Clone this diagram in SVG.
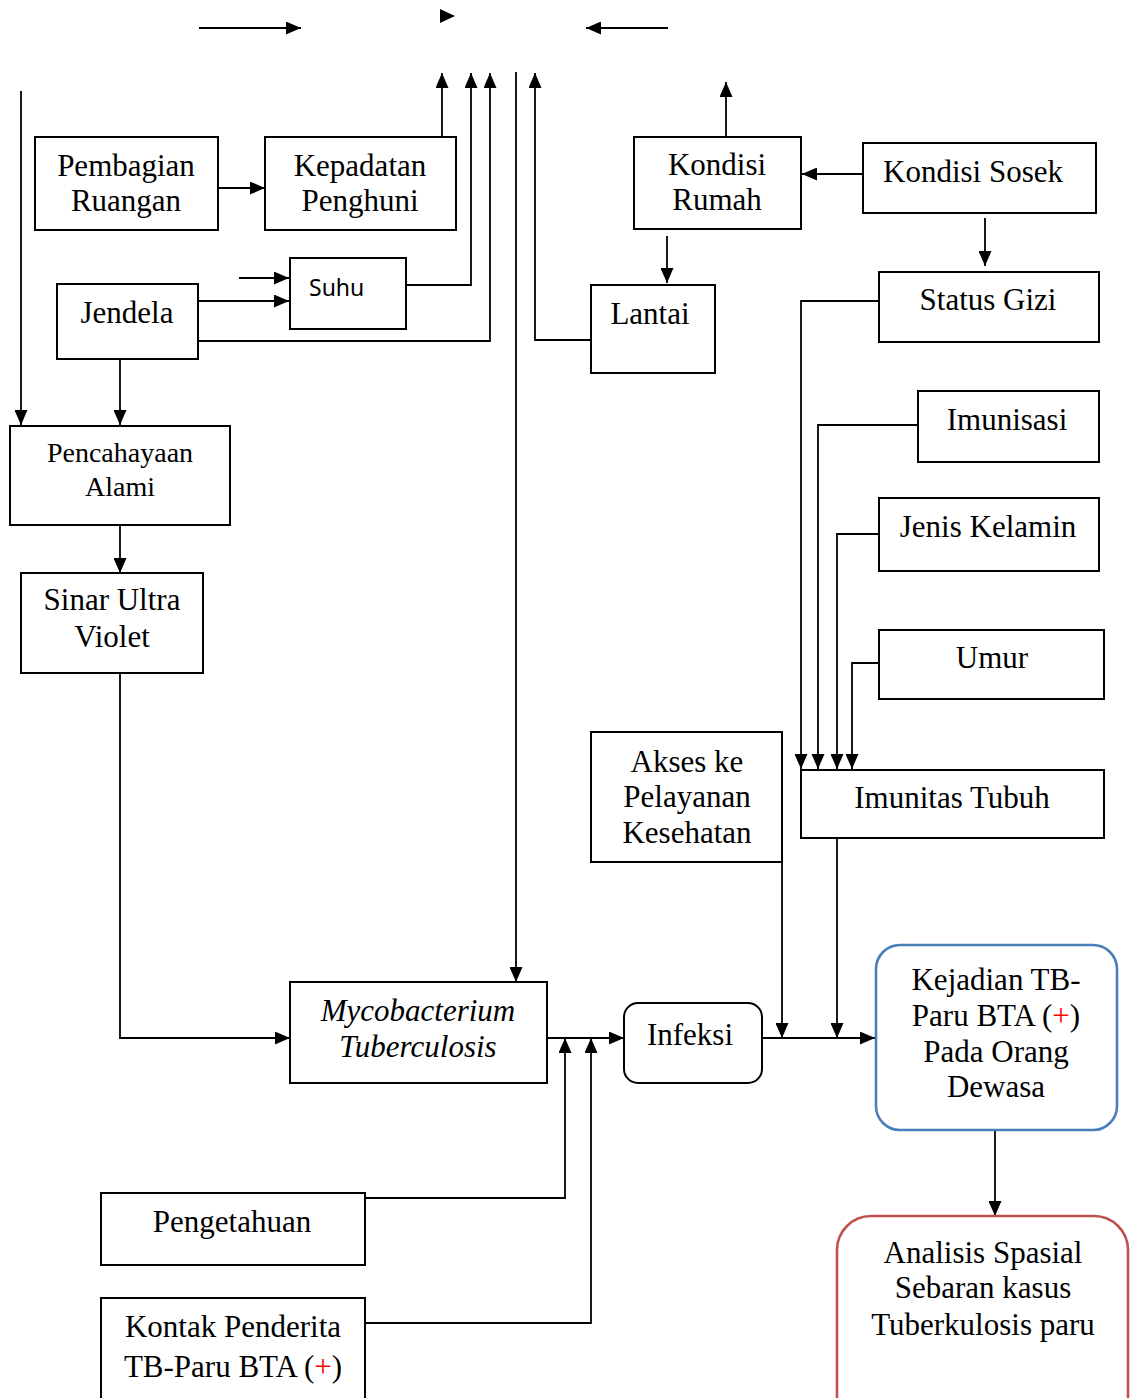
<svg xmlns="http://www.w3.org/2000/svg" width="1130" height="1398" viewBox="0 0 1130 1398">
  <style>
    .box { fill: #ffffff; stroke: #000000; stroke-width: 2; }
    .rbox { fill: #ffffff; stroke: #000000; stroke-width: 2; }
    .blue { fill: #ffffff; stroke: #4A7EBB; stroke-width: 2.6; }
    .red { fill: #ffffff; stroke: #C0504D; stroke-width: 2.6; }
    .t { font-family: "Liberation Serif", "Times New Roman", serif; font-size: 31px; fill: #000000; text-anchor: middle; }
    .t28 { font-size: 28px; }
    .it { font-style: italic; }
    .sans { font-family: "Noto Sans", "Open Sans", sans-serif; font-size: 23px; fill: #000000; }
    .plus { fill: #FF0000; }
    .edge { fill: none; stroke: #000000; stroke-width: 1.8; marker-end: url(#arrow); }
    .line { fill: none; stroke: #000000; stroke-width: 1.8; }
  </style>
  <defs>
    <marker id="arrow" markerUnits="userSpaceOnUse" markerWidth="15" markerHeight="13" refX="15" refY="6.5" orient="auto">
      <path d="M0,0 L15,6.5 L0,13 Z" fill="#000000"/>
    </marker>
  </defs>
  <rect width="1130" height="1398" fill="#ffffff"/>

  <!-- connectors -->
  <g id="connectors">
    <path class="edge" d="M199,28 H301"/>
    <path d="M440,9 L455,16 L440,23 Z" fill="#000000"/>
    <path class="edge" d="M668,28 H586"/>
    <path class="edge" d="M442,137 V73"/>
    <path class="edge" d="M406,285 H471 V73"/>
    <path class="edge" d="M198,341 H490 V73"/>
    <path class="edge" d="M516,72 V982"/>
    <path class="edge" d="M591,340 H535 V73"/>
    <path class="edge" d="M726,137 V82"/>
    <path class="edge" d="M21,91 V425"/>
    <path class="edge" d="M218,188 H265"/>
    <path class="edge" d="M239,278 H289"/>
    <path class="edge" d="M198,301 H289"/>
    <path class="edge" d="M120,359 V425"/>
    <path class="edge" d="M120,525 V573"/>
    <path class="edge" d="M120,673 V1038 H290"/>
    <path class="edge" d="M548,1038 H624"/>
    <path class="edge" d="M362,1198 H565 V1038"/>
    <path class="edge" d="M362,1323 H591 V1038"/>
    <path class="edge" d="M762,1038 H875"/>
    <path class="edge" d="M782,863 V1038"/>
    <path class="edge" d="M837,839 V1038"/>
    <path class="edge" d="M863,174 H802"/>
    <path class="edge" d="M985,218 V266"/>
    <path class="edge" d="M667,236 V283"/>
    <path class="edge" d="M879,301 H801 V769"/>
    <path class="edge" d="M918,425 H818 V769"/>
    <path class="edge" d="M879,534 H837 V769"/>
    <path class="edge" d="M879,663 H852 V769"/>
    <path class="edge" d="M995,1130 V1216"/>
  </g>

  <!-- nodes -->
  <g id="pembagian-ruangan">
    <rect class="box" x="35" y="137" width="183" height="93"/>
    <text class="t" x="126" y="176">Pembagian</text>
    <text class="t" x="126" y="211">Ruangan</text>
  </g>
  <g id="kepadatan-penghuni">
    <rect class="box" x="265" y="137" width="191" height="93"/>
    <text class="t" x="360" y="176">Kepadatan</text>
    <text class="t" x="360" y="211">Penghuni</text>
  </g>
  <g id="suhu">
    <rect class="box" x="290" y="258" width="116" height="71"/>
    <text class="sans" x="309" y="296">Suhu</text>
  </g>
  <g id="jendela">
    <rect class="box" x="57" y="284" width="141" height="75"/>
    <text class="t" x="127" y="323">Jendela</text>
  </g>
  <g id="pencahayaan-alami">
    <rect class="box" x="10" y="426" width="220" height="99"/>
    <text class="t t28" x="120" y="462">Pencahayaan</text>
    <text class="t t28" x="120" y="496">Alami</text>
  </g>
  <g id="sinar-ultra-violet">
    <rect class="box" x="21" y="573" width="182" height="100"/>
    <text class="t" x="112" y="610">Sinar Ultra</text>
    <text class="t" x="112" y="647">Violet</text>
  </g>
  <g id="kondisi-rumah">
    <rect class="box" x="634" y="137" width="167" height="92"/>
    <text class="t" x="717" y="175">Kondisi</text>
    <text class="t" x="717" y="210">Rumah</text>
  </g>
  <g id="kondisi-sosek">
    <rect class="box" x="863" y="143" width="233" height="70"/>
    <text class="t" x="973" y="182">Kondisi Sosek</text>
  </g>
  <g id="lantai">
    <rect class="box" x="591" y="285" width="124" height="88"/>
    <text class="t" x="650" y="324">Lantai</text>
  </g>
  <g id="status-gizi">
    <rect class="box" x="879" y="272" width="220" height="70"/>
    <text class="t" x="988" y="310">Status Gizi</text>
  </g>
  <g id="imunisasi">
    <rect class="box" x="918" y="391" width="181" height="71"/>
    <text class="t" x="1007" y="430">Imunisasi</text>
  </g>
  <g id="jenis-kelamin">
    <rect class="box" x="879" y="498" width="220" height="73"/>
    <text class="t" x="988" y="537">Jenis Kelamin</text>
  </g>
  <g id="umur">
    <rect class="box" x="879" y="630" width="225" height="69"/>
    <text class="t" x="992" y="668">Umur</text>
  </g>
  <g id="imunitas-tubuh">
    <rect class="box" x="801" y="770" width="303" height="68"/>
    <text class="t" x="952" y="808">Imunitas Tubuh</text>
  </g>
  <g id="akses-pelayanan">
    <rect class="box" x="591" y="732" width="191" height="130"/>
    <text class="t" x="687" y="772">Akses ke</text>
    <text class="t" x="687" y="807">Pelayanan</text>
    <text class="t" x="687" y="843">Kesehatan</text>
  </g>
  <g id="mycobacterium">
    <rect class="box" x="290" y="982" width="257" height="101"/>
    <text class="t it" x="418" y="1021">Mycobacterium</text>
    <text class="t it" x="418" y="1057">Tuberculosis</text>
  </g>
  <g id="infeksi">
    <rect class="rbox" x="624" y="1003" width="138" height="80" rx="14"/>
    <text class="t" x="690" y="1045">Infeksi</text>
  </g>
  <g id="kejadian-tb">
    <rect class="blue" x="876" y="945" width="241" height="185" rx="24"/>
    <text class="t" x="996" y="990">Kejadian TB-</text>
    <text class="t" x="996" y="1026">Paru BTA (<tspan class="plus">+</tspan>)</text>
    <text class="t" x="996" y="1062">Pada Orang</text>
    <text class="t" x="996" y="1097">Dewasa</text>
  </g>
  <g id="analisis-spasial">
    <rect class="red" x="837" y="1216" width="291" height="230" rx="34"/>
    <text class="t" x="983" y="1263">Analisis Spasial</text>
    <text class="t" x="983" y="1298">Sebaran kasus</text>
    <text class="t" x="983" y="1335">Tuberkulosis paru</text>
  </g>
  <g id="pengetahuan">
    <rect class="box" x="101" y="1193" width="264" height="72"/>
    <text class="t" x="232" y="1232">Pengetahuan</text>
  </g>
  <g id="kontak-penderita">
    <rect class="box" x="101" y="1298" width="264" height="120"/>
    <text class="t" x="233" y="1337">Kontak Penderita</text>
    <text class="t" x="233" y="1377">TB-Paru BTA (<tspan class="plus">+</tspan>)</text>
  </g>
</svg>
